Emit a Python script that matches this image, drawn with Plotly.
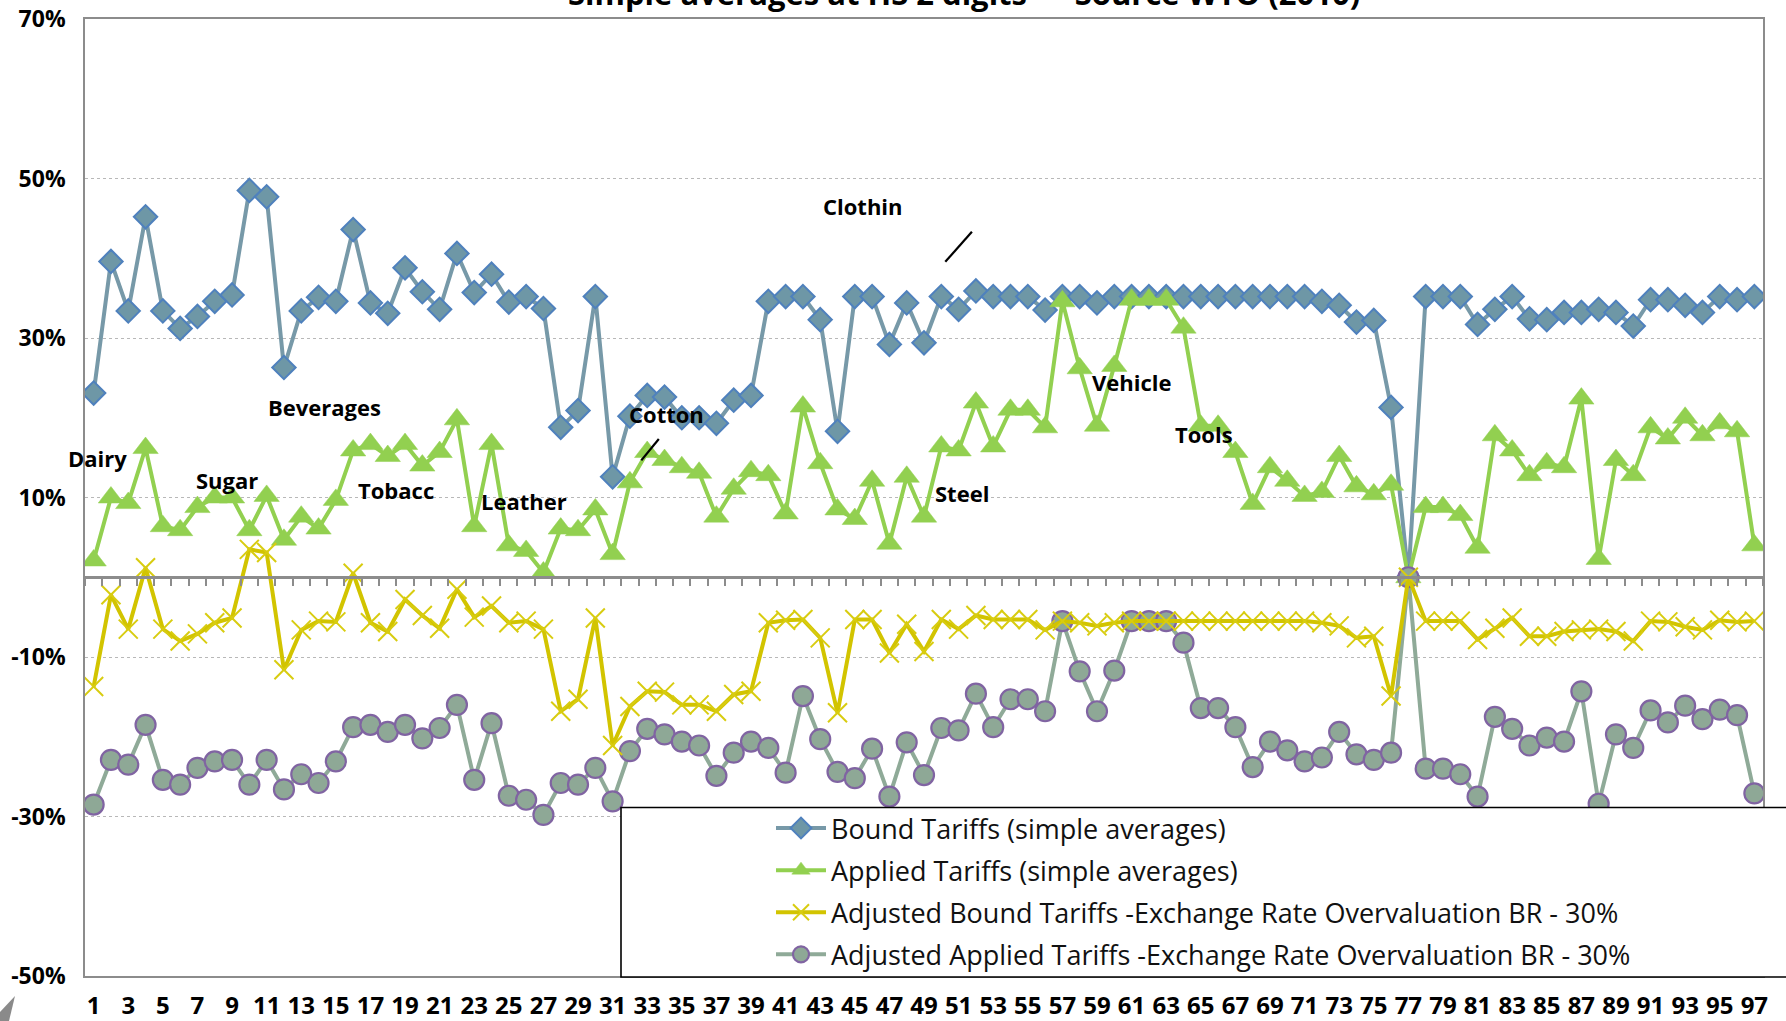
import plotly.graph_objects as go

# HS 2-digit chapters
chapters = list(range(1, 98))
tick_chapters = chapters[::2]

bound = [
    23.1, 39.6, 33.4, 45.2, 33.4, 31.2, 32.7, 34.6, 35.4, 48.5,
    47.7, 26.3, 33.4, 35.1, 34.6, 43.6, 34.4, 33.1, 38.8, 35.8,
    33.6, 40.6, 35.7, 38.0, 34.5, 35.2, 33.7, 18.8, 20.9, 35.2,
    12.6, 20.2, 22.8, 22.6, 20.0, 20.0, 19.3, 22.2, 22.8, 34.6,
    35.2, 35.2, 32.3, 18.3, 35.2, 35.2, 29.2, 34.4, 29.4, 35.2,
    33.6, 35.9, 35.2, 35.2, 35.2, 33.5, 35.2, 35.2, 34.4, 35.2,
    35.2, 35.2, 35.2, 35.2, 35.2, 35.2, 35.2, 35.2, 35.2, 35.2,
    35.2, 34.6, 34.1, 32.0, 32.2, 21.3, 0.0, 35.2, 35.2, 35.2,
    31.7, 33.6, 35.2, 32.4, 32.3, 33.2, 33.2, 33.6, 33.2, 31.5,
    34.8, 34.8, 34.1, 33.2, 35.2, 34.8, 35.2,
]

applied = [
    2.1, 10.0, 9.3, 16.2, 6.4, 5.9, 8.8, 10.0, 10.0, 5.9,
    10.2, 4.7, 7.6, 6.1, 9.7, 15.9, 16.7, 15.2, 16.7, 14.0,
    15.7, 19.8, 6.4, 16.7, 4.0, 3.3, 0.6, 6.1, 5.9, 8.5,
    2.9, 11.9, 15.7, 14.7, 13.8, 13.1, 7.6, 11.1, 13.3, 12.8,
    8.0, 21.4, 14.3, 8.5, 7.3, 12.1, 4.2, 12.6, 7.6, 16.4,
    15.9, 21.9, 16.4, 21.0, 21.0, 18.8, 34.6, 26.2, 19.0, 26.5,
    34.8, 34.8, 34.8, 31.3, 19.0, 19.0, 15.7, 9.2, 13.8, 12.1,
    10.2, 10.7, 15.2, 11.4, 10.4, 11.6, 0.0, 8.8, 8.8, 7.8,
    3.7, 17.8, 15.9, 12.8, 14.3, 13.8, 22.4, 2.3, 14.7, 12.8,
    18.8, 17.4, 20.0, 17.8, 19.3, 18.3, 4.0,
]

adj_bound = [
    -13.7, -2.2, -6.5, 1.2, -6.5, -8.0, -7.1, -5.7, -5.1, 3.5,
    3.1, -11.6, -6.6, -5.5, -5.6, 0.5, -5.7, -6.8, -2.8, -4.8,
    -6.4, -1.5, -5.0, -3.6, -5.7, -5.5, -6.5, -16.8, -15.3, -5.1,
    -21.1, -16.2, -14.3, -14.4, -16.0, -16.0, -16.8, -14.7, -14.3, -5.7,
    -5.4, -5.3, -7.6, -17.0, -5.3, -5.3, -9.5, -5.9, -9.3, -5.3,
    -6.5, -4.8, -5.3, -5.3, -5.3, -6.6, -5.5, -5.7, -6.1, -5.7,
    -5.5, -5.5, -5.5, -5.5, -5.5, -5.5, -5.5, -5.5, -5.5, -5.5,
    -5.5, -5.7, -6.1, -7.6, -7.4, -14.9, 0.0, -5.5, -5.5, -5.5,
    -7.8, -6.4, -5.1, -7.4, -7.4, -6.8, -6.6, -6.5, -6.8, -8.0,
    -5.5, -5.6, -6.2, -6.6, -5.4, -5.6, -5.5,
]

adj_applied = [
    -28.5, -22.9, -23.5, -18.5, -25.4, -26.0, -23.9, -23.1, -22.9, -26.0,
    -22.9, -26.6, -24.7, -25.8, -23.1, -18.8, -18.5, -19.4, -18.5, -20.2,
    -18.9, -16.0, -25.4, -18.3, -27.4, -27.9, -29.8, -25.8, -26.0, -23.9,
    -28.1, -21.8, -19.0, -19.7, -20.6, -21.1, -24.9, -22.0, -20.6, -21.4,
    -24.5, -14.9, -20.3, -24.4, -25.2, -21.5, -27.5, -20.7, -24.8, -18.9,
    -19.2, -14.6, -18.8, -15.3, -15.3, -16.8, -5.5, -11.8, -16.8, -11.7,
    -5.5, -5.5, -5.5, -8.2, -16.4, -16.4, -18.8, -23.8, -20.6, -21.7,
    -23.1, -22.6, -19.4, -22.2, -22.9, -22.0, 0.0, -24.0, -24.0, -24.7,
    -27.5, -17.5, -19.0, -21.1, -20.1, -20.6, -14.3, -28.4, -19.7, -21.4,
    -16.7, -18.2, -16.1, -17.8, -16.6, -17.3, -27.1,
]

y_ticks = [-50, -30, -10, 10, 30, 50, 70]

# sector labels: (text, chapter position, percent)
sector_labels = [
    ("Dairy", 1.2, 14.9), ("Sugar", 8.7, 12.2), ("Beverages", 14.35, 21.4),
    ("Tobacc", 18.45, 11.0), ("Leather", 25.9, 9.6), ("Cotton", 34.1, 20.5),
    ("Clothin", 45.45, 46.5), ("Steel", 51.2, 10.6), ("Vehicle", 61.0, 24.5),
    ("Tools", 65.2, 18.0),
]

FONT = "Open Sans"
W, H = 1786, 1021
ML, MR, MT, MB = 85, 23, 19, 45
PW, PH = W - ML - MR, H - MT - MB


def px_x(p):
    return (p - ML) / PW


def px_y(p):
    return (H - MB - p) / PH


fig = go.Figure()

fig.add_trace(go.Scatter(
    x=chapters, y=bound, name="Bound Tariffs (simple averages)",
    mode="lines+markers", legendgroup="a",
    line=dict(color="#7799A8", width=4),
    marker=dict(symbol="diamond", size=18, color="#6E97A6",
                line=dict(color="#4F81BD", width=2)),
))
fig.add_trace(go.Scatter(
    x=chapters, y=applied, name="Applied Tariffs (simple averages)",
    mode="lines+markers", legendgroup="b",
    line=dict(color="#92D050", width=4),
    marker=dict(symbol="triangle-up", size=22, color="#92D050",
                line=dict(color="#92D050", width=0.5)),
))
fig.add_trace(go.Scatter(
    x=chapters, y=adj_bound,
    name="Adjusted Bound Tariffs -Exchange Rate Overvaluation BR - 30%",
    mode="lines+markers", legendgroup="c",
    line=dict(color="#D2C400", width=4),
    marker=dict(symbol="x-thin", size=19, color="#D2C400",
                line=dict(color="#D8CC10", width=2)),
))
fig.add_trace(go.Scatter(
    x=chapters, y=adj_applied,
    name="Adjusted Applied Tariffs -Exchange Rate Overvaluation BR - 30%",
    mode="lines+markers", legendgroup="d",
    line=dict(color="#8FAA98", width=4),
    marker=dict(symbol="circle", size=20, color="#8EA896",
                line=dict(color="#8064A2", width=2.2)),
))

annotations = [
    dict(text=t, x=x, y=y, xref="x", yref="y", showarrow=False,
         font=dict(family=FONT, size=22, color="#000000", weight="bold"))
    for t, x, y in sector_labels
]
annotations.append(dict(
    text="Simple averages at HS 2 digits  –  Source WTO (2010)",
    x=px_x(964), y=px_y(16), xref="paper", yref="paper",
    xanchor="center", yanchor="bottom", showarrow=False,
    font=dict(family=FONT, size=31, color="#000000", weight="bold"),
))

shapes = [
    # pointer strokes next to the Cotton and Clothin labels
    dict(type="line", xref="x", yref="y", x0=32.66, y0=14.65, x1=33.67, y1=17.34,
         line=dict(color="#000000", width=2.2)),
    dict(type="line", xref="x", yref="y", x0=50.23, y0=39.55, x1=51.77, y1=43.31,
         line=dict(color="#000000", width=2.2)),
    # legend frame
    dict(type="rect", xref="paper", yref="paper",
         x0=px_x(621), x1=px_x(1800), y0=px_y(977), y1=px_y(807.5),
         line=dict(color="#000000", width=1.6), fillcolor="rgba(255,255,255,1)",
         layer="above"),
    # small grey wedge in the lower-left corner
    dict(type="path", xref="paper", yref="paper",
         path=(f"M {px_x(0)} {px_y(1021)} L {px_x(0)} {px_y(1012)} "
               f"L {px_x(15)} {px_y(996)} L {px_x(9)} {px_y(1021)} Z"),
         fillcolor="#8A8A8A", line=dict(width=0)),
]

fig.update_layout(
    width=W, height=H,
    margin=dict(l=ML, r=MR, t=MT, b=MB, autoexpand=False),
    paper_bgcolor="white", plot_bgcolor="white",
    font=dict(family=FONT, color="#000000"),
    showlegend=True,
    legend=dict(
        x=px_x(771), y=px_y(804), xanchor="left", yanchor="top",
        bgcolor="rgba(0,0,0,0)", borderwidth=0,
        font=dict(family=FONT, size=27, color="#111111"),
        traceorder="grouped", tracegroupgap=4, itemwidth=50,
    ),
    annotations=annotations,
    shapes=shapes,
    xaxis=dict(
        range=[0.5, 97.5], tickmode="array", tickvals=tick_chapters,
        ticktext=[str(c) for c in tick_chapters],
        tickfont=dict(family=FONT, size=24, color="#000000", weight="bold"),
        ticks="", showgrid=False, zeroline=False, automargin=False,
        showline=True, linecolor="#8C8C8C", linewidth=2, mirror=True,
        ticklabelstandoff=7,
    ),
    xaxis2=dict(
        range=[0.5, 97.5], overlaying="x", anchor="free", position=50 / 120,
        side="bottom", tickmode="array", automargin=False,
        tickvals=[c - 0.5 for c in chapters] + [chapters[-1] + 0.5],
        showticklabels=False, ticks="outside", ticklen=7, tickwidth=1.5,
        tickcolor="#8C8C8C", showline=True, linecolor="#8C8C8C", linewidth=2.5,
        showgrid=False, zeroline=False,
    ),
    yaxis=dict(
        range=[-50, 70], tickmode="array", tickvals=y_ticks,
        ticktext=[f"{v}%" for v in y_ticks], automargin=False,
        tickfont=dict(family=FONT, size=23, color="#000000", weight="bold"),
        showgrid=True, gridcolor="#B8B8B8", griddash="dot", gridwidth=1,
        zeroline=False, ticks="", showline=True, linecolor="#8C8C8C",
        linewidth=1.5, mirror=True, ticklabelstandoff=13,
    ),
)

# the adjusted bound series is drawn against the zero-crossing axis
fig.data[2].update(xaxis="x2")

fig.write_html("out.html")
